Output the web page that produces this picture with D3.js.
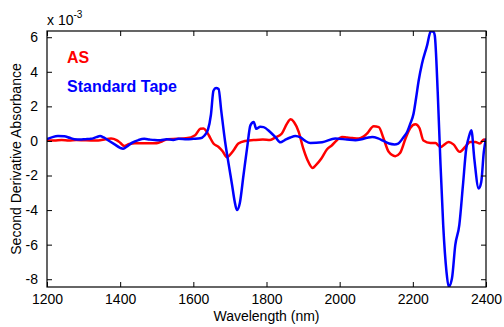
<!DOCTYPE html>
<meta charset="utf-8">
<html>
<head>
<script src="https://d3js.org/d3.v7.min.js"></script>
<style>
  body { margin: 0; background: #fff; }
  text { font-family: "Liberation Sans", Arial, sans-serif; }
</style>
</head>
<body>
<div id="chart"></div>
<script>
// wavelength (nm) / second derivative (x 1e-3)
var tapeWl = [1200,1215,1230,1247,1262,1275,1290,1305,1320,1335,1345,1355,1370,1385,1400,1408,1420,1433,1450,1466,1480,1494,1510,1527,1545,1560,1582,1600,1619,1630,1640,1648,1655,1662,1669,1676,1687,1697,1706,1713,1719,1727,1737,1747,1756,1765,1772,1783,1792,1810,1825,1838,1850,1865,1879,1893,1906,1920,1952,1988,2020,2043,2060,2075,2089,2105,2120,2135,2150,2160,2175,2185,2193,2202,2209,2216,2225,2239,2248,2252,2257,2260,2268,2275,2283,2292,2298,2307,2316,2327,2337,2346,2352,2360,2368,2380,2387,2394,2400];
var tapeVal = [0.1,0.22,0.28,0.27,0.18,0.1,0.08,0.1,0.12,0.22,0.28,0.2,0.0,-0.2,-0.4,-0.45,-0.3,-0.1,0.05,0.12,0.08,0.05,0.04,0.1,0.06,0.12,0.1,0.12,0.15,0.3,0.65,1.5,2.9,3.06,3.0,1.8,-0.06,-1.4,-2.56,-3.5,-4.0,-3.6,-2.0,-0.4,0.9,1.1,0.7,0.82,0.8,0.52,0.2,-0.08,0.05,0.2,0.29,0.2,0.0,-0.12,-0.08,0.14,0.08,0.04,0.1,0.18,0.23,0.15,0.0,-0.15,-0.2,-0.15,0.23,0.55,1.0,1.58,2.5,3.5,4.47,5.53,6.3,6.35,6.3,6.1,2.83,-1.02,-4.87,-7.57,-8.44,-7.95,-6.03,-4.87,-2.56,-0.44,0.14,0.62,-1.02,-2.75,-2.37,-0.64,0.14];

var asWl = [1200,1220,1240,1260,1280,1300,1320,1340,1360,1375,1390,1400,1411,1425,1440,1460,1480,1494,1505,1515,1530,1555,1580,1605,1619,1628,1636,1643,1655,1669,1680,1692,1700,1710,1723,1742,1770,1790,1810,1824,1842,1856,1866,1875,1888,1900,1912,1926,1935,1950,1965,1979,1993,2006,2020,2034,2052,2065,2075,2093,2107,2120,2134,2152,2165,2180,2193,2207,2218,2229,2248,2262,2275,2298,2311,2328,2343,2357,2371,2383,2394,2400];
var asVal = [0.02,0.02,0.05,0.02,0.05,0.04,0.03,0.03,0.1,0.14,0.05,-0.1,-0.29,-0.18,-0.13,-0.13,-0.13,-0.13,-0.1,-0.02,0.1,0.12,0.15,0.33,0.7,0.72,0.55,0.3,-0.15,-0.35,-0.6,-0.95,-0.8,-0.54,-0.15,0.0,0.06,0.08,0.06,0.2,0.43,1.0,1.25,1.1,0.52,-0.4,-1.1,-1.56,-1.4,-1.02,-0.5,-0.25,0.05,0.23,0.2,0.17,0.14,0.25,0.43,0.85,0.8,0.14,-0.63,-0.88,-0.7,0.14,0.75,0.97,0.75,0.02,-0.12,-0.12,-0.35,-0.06,-0.2,-0.63,-0.35,-0.06,-0.06,-0.15,0.08,0.05];

var xTicks = [1200,1400,1600,1800,2000,2200,2400];
var yTicks = [-8,-6,-4,-2,0,2,4,6];
var seriesNames = ["AS", "Standard Tape"];
var seriesColors = ["#ff0000", "#0000ff"];

var W = 504, H = 327;
var margin = {top: 31, right: 18, bottom: 40, left: 47};
var width = W - margin.left - margin.right,
    height = H - margin.top - margin.bottom;

var svg = d3.select("#chart").append("svg")
  .attr("width", W).attr("height", H);

var g = svg.append("g")
  .attr("transform", "translate(" + margin.left + "," + margin.top + ")");

var x = d3.scaleLinear().domain([1200, 2400]).range([0, width]);
var y = d3.scaleLinear().domain([-8.45, 6.36]).range([height, 0]);

svg.append("clipPath").attr("id", "clip")
  .append("rect").attr("width", width).attr("height", height);

var line = d3.line()
  .x(function(d) { return x(d[0]); })
  .y(function(d) { return y(d[1]); })
  .curve(d3.curveMonotoneX);

var series = [
  asWl.map(function(w, i) { return [w, asVal[i]]; }),
  tapeWl.map(function(w, i) { return [w, tapeVal[i]]; })
];

var plot = g.append("g").attr("clip-path", "url(#clip)");
series.forEach(function(s, i) {
  plot.append("path")
    .datum(s)
    .attr("d", line)
    .attr("fill", "none")
    .attr("stroke", seriesColors[i])
    .attr("stroke-width", 2.5)
    .attr("stroke-linejoin", "round");
});

// axes, ticks inward like matlab
function style(a) {
  a.select(".domain").remove();
  a.selectAll("line").attr("stroke", "#000");
  a.selectAll("text").style("font-size", "14px").attr("fill", "#000");
}
g.append("g").attr("transform", "translate(0," + height + ")")
  .call(d3.axisBottom(x).tickValues(xTicks).tickSize(-5).tickPadding(7).tickFormat(d3.format("d")))
  .call(style);
g.append("g")
  .call(d3.axisTop(x).tickValues(xTicks).tickSize(-5).tickFormat(""))
  .call(style);
g.append("g")
  .call(d3.axisLeft(y).tickValues(yTicks).tickSize(-5).tickPadding(9).tickFormat(function(d) { return String(d); }))
  .call(style);
g.append("g").attr("transform", "translate(" + width + ",0)")
  .call(d3.axisRight(y).tickValues(yTicks).tickSize(-5).tickFormat(""))
  .call(style);

g.append("rect")
  .attr("width", width).attr("height", height)
  .attr("fill", "none").attr("stroke", "#000").attr("stroke-width", 1.2);

// exponent
var ex = svg.append("text").attr("x", margin.left).attr("y", 25).style("font-size", "14px");
ex.append("tspan").text("x 10");
ex.append("tspan").attr("dy", -7).style("font-size", "10px").text("-3");

// axis titles
svg.append("text")
  .attr("x", margin.left + width / 2).attr("y", 321)
  .attr("text-anchor", "middle").style("font-size", "14px")
  .text("Wavelength (nm)");
svg.append("text")
  .attr("transform", "translate(21," + (margin.top + height / 2) + ") rotate(-90)")
  .attr("text-anchor", "middle").style("font-size", "14px")
  .text("Second Derivative Absorbance");

// legend text
seriesNames.forEach(function(n, i) {
  svg.append("text")
    .attr("x", 67).attr("y", 63 + i * 28.5)
    .style("font-size", "16px").style("font-weight", "bold")
    .attr("fill", seriesColors[i])
    .text(n);
});
</script>
</body>
</html>
